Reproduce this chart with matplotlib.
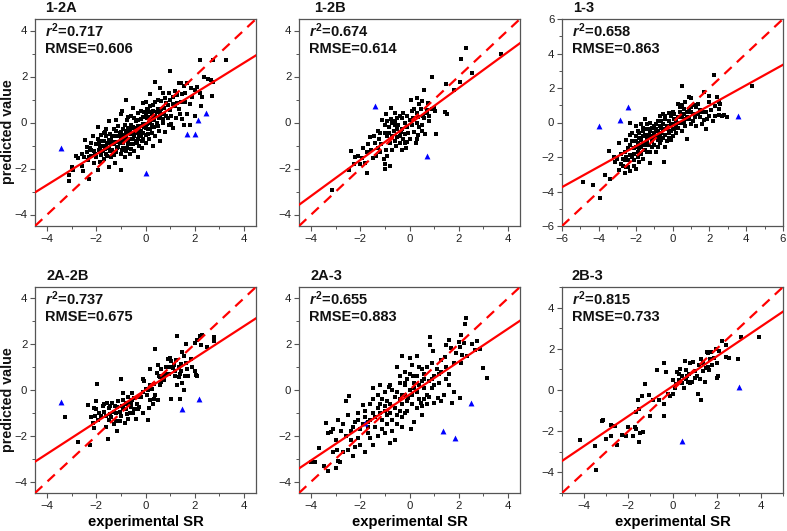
import matplotlib
matplotlib.use("Agg")
import matplotlib.pyplot as plt
from matplotlib.ticker import MultipleLocator
import numpy as np

plt.rcParams['font.family'] = ['Liberation Sans', 'DejaVu Sans']
plt.rcParams['mathtext.fontset'] = 'custom'
plt.rcParams['mathtext.it'] = 'Liberation Sans:italic:bold'
plt.rcParams['mathtext.rm'] = 'Liberation Sans:bold'
plt.rcParams['mathtext.bf'] = 'Liberation Sans:bold'

# ---------------- data ----------------
titles = ["1-2A", "1-2B", "1-3", "2A-2B", "2A-3", "2B-3"]
r2_values = ["0.717", "0.674", "0.658", "0.737", "0.655", "0.815"]
rmse_values = ["0.606", "0.614", "0.863", "0.675", "0.883", "0.733"]
axis_limits = [4.5, 4.5, 6.0, 4.5, 4.5, 5.0]
fit_slopes = [0.662, 0.781, 0.591, 0.696, 0.717, 0.725]
fit_intercepts = [-0.06, -0.065, -0.20, 0.0, -0.20, 0.18]

pts_12A = [
    (-3.1, -2.3), (-3.1, -2.55), (-3.0, -1.95), (-2.95, -2.05), (-2.85, -1.45), (-2.75, -1.55),
    (-2.6, -1.9), (-2.55, -2.1), (-2.5, -1.5), (-2.45, -0.75), (-2.4, -1.3), (-2.35, -1.65),
    (-2.3, -2.45), (-2.25, -1.1), (-2.2, -1.45), (-2.1, -1.25), (-2.1, -1.75), (-2.0, -0.95),
    (-2.0, -1.5), (-1.95, -2.05), (-1.95, -0.2), (-1.9, -1.2), (-1.85, -1.7), (-1.8, -0.8),
    (-1.8, -1.4), (-1.75, -1.0), (-1.7, -1.6), (-1.65, -1.15), (-1.6, -0.6), (-1.6, -1.35),
    (-1.6, -0.3), (-1.55, -0.9), (-1.5, -1.95), (-1.5, -1.1), (-1.5, 0.05), (-1.45, -0.5),
    (-1.4, -1.5), (-1.4, -0.75), (-1.35, -1.2), (-1.3, -0.3), (-1.3, -0.95), (-1.25, -1.75),
    (-1.2, -0.6), (-1.2, -1.3), (-1.2, 0.1), (-1.15, -0.85), (-1.1, -0.15), (-1.1, -1.05),
    (-1.05, -0.45), (-1.0, -2.05), (-1.0, -0.7), (-1.0, 0.35), (-0.95, -1.2), (-0.95, 0.5),
    (-0.9, -0.3), (-0.9, -0.9), (-0.85, -1.5), (-0.8, 1.0), (-0.8, -0.55), (-0.75, 0.1),
    (-0.75, -1.1), (-0.7, -0.25), (-0.7, -0.8), (-0.65, -1.35), (-0.6, 0.3), (-0.6, -0.5),
    (-0.55, -0.95), (-0.5, 0.65), (-0.5, -0.2), (-0.5, -0.7), (-0.45, -1.25), (-0.4, 0.05),
    (-0.4, -0.45), (-0.35, -0.9), (-0.3, 0.4), (-0.3, -0.15), (-0.3, -1.5), (-0.25, -0.6),
    (-0.2, 0.15), (-0.2, -0.35), (-0.15, -1.1), (-0.1, 0.85), (-0.1, -0.05), (-0.1, -0.7),
    (-0.05, 0.45), (0.0, -0.25), (0.0, 0.9), (0.0, -0.9), (0.05, 0.2), (0.1, -0.5),
    (0.1, 0.55), (0.15, 0.0), (0.2, 1.25), (0.2, -0.3), (0.25, 0.35), (0.3, -1.0),
    (0.3, 0.75), (0.35, 0.1), (0.4, 1.75), (0.4, -0.6), (0.45, 0.45), (0.5, 1.0),
    (0.5, -0.15), (0.55, 0.2), (0.6, 1.5), (0.6, -0.8), (0.65, 0.6), (0.7, 1.3),
    (0.7, 0.0), (0.75, 0.35), (0.8, -0.4), (0.85, 0.85), (0.9, 0.2), (0.95, 1.3),
    (1.0, 2.22), (1.0, 0.55), (1.05, -0.05), (1.1, 1.1), (1.1, -0.23), (1.2, 0.7),
    (1.3, 1.2), (1.35, 1.7), (1.4, 0.35), (1.45, 1.7), (1.45, 0.9), (1.5, 0.15),
    (1.55, 1.6), (1.6, 0.9), (1.7, 1.7), (1.7, 0.35), (1.8, -0.12), (1.85, 1.5),
    (2.0, 1.4), (2.1, 1.55), (2.2, 1.3), (2.2, 2.7), (2.25, 0.7), (2.3, 1.1),
    (2.4, 2.0), (2.55, 1.9), (2.65, 1.85), (2.7, 1.15), (2.75, 1.75), (2.75, 2.72),
    (3.27, 2.72), (-2.2, -0.9), (-1.7, -0.45), (-0.6, -0.1), (0.25, -0.1), (0.6, 0.45),
    (-2.6, -1.35), (-2.4, -1.05), (-2.3, -1.5), (-2.2, -1.2), (-2.15, -0.6), (-2.05, -1.35),
    (-1.95, -0.7), (-1.9, -0.9), (-1.85, -1.05), (-1.8, -0.55), (-1.75, -1.25), (-1.7, -0.8),
    (-1.65, -0.4), (-1.6, -1.0), (-1.55, -1.45), (-1.5, -0.75), (-1.45, -1.25), (-1.4, -0.95),
    (-1.35, -0.6), (-1.3, -1.4), (-1.25, -0.85), (-1.2, -0.35), (-1.15, -1.1), (-1.1, -0.6),
    (-1.05, -0.9), (-1.0, -1.35), (-1.0, -0.4), (-0.95, -0.55), (-0.9, -1.1), (-0.85, -0.75),
    (-0.85, -0.1), (-0.8, -1.25), (-0.8, -0.35), (-0.75, -0.7), (-0.7, -0.95), (-0.7, 0.25),
    (-0.65, -0.4), (-0.6, -0.7), (-0.6, -1.15), (-0.55, -0.25), (-0.5, -0.45), (-0.5, -0.95),
    (-0.45, 0.2), (-0.45, -0.6), (-0.4, -0.8), (-0.4, -0.25), (-0.35, -0.45), (-0.3, -0.7),
    (-0.3, 0.1), (-0.25, -0.3), (-0.25, -1.0), (-0.2, -0.55), (-0.2, 0.5), (-0.15, -0.15),
    (-0.15, -0.8), (-0.1, 0.25), (-0.1, -0.45), (-0.05, -0.2), (0.0, 0.35), (0.0, -0.55),
    (0.05, -0.05), (0.05, 0.6), (0.1, -0.3), (0.1, 0.25), (0.15, -0.7), (0.15, 0.45),
    (0.2, 0.05), (0.2, 0.7), (0.25, -0.45), (0.3, 0.2), (0.3, 0.5), (0.35, -0.2),
    (0.4, 0.3), (0.4, 0.9), (0.45, 0.0), (0.5, 0.6), (0.55, -0.35), (0.6, 0.3),
    (0.65, 0.95), (0.7, 0.15), (0.75, 0.65), (0.8, 1.05), (0.85, 0.3), (0.9, 0.75),
    (0.95, -0.1), (1.0, 1.0), (1.05, 0.3), (1.1, 0.8), (1.2, 1.35), (1.25, 0.2),
    (1.3, 0.85), (1.35, 0.6), (1.6, 1.3), (1.9, 1.1), (1.5, 1.25), (1.8, 0.8),
    (2.0, 0.3), (1.55, -0.1),
]
tri_12A = [(-3.43, -1.12), (0.0, -2.18), (1.69, -0.48), (2.03, -0.48), (2.14, 0.1), (2.46, 0.43)]

pts_12B = [
    (3.74, 2.98), (2.32, 3.23), (2.08, 2.74), (2.53, 2.15), (2.04, 1.76), (1.83, 1.4),
    (1.47, 1.66), (1.45, 0.45), (1.54, 0.35), (0.92, 2.0), (0.58, 1.43), (1.0, 0.65),
    (1.05, 0.5), (1.06, -0.48), (0.8, 0.3), (0.7, 0.55), (0.75, 0.85), (0.5, 0.95),
    (0.4, 0.8), (0.3, 1.05), (0.05, 1.0), (0.3, 0.4), (0.1, 0.5), (-0.1, 0.3),
    (0.3, 0.0), (0.1, -0.1), (-0.1, -0.2), (0.0, 0.1), (0.15, 0.2), (0.5, -0.1),
    (0.6, 0.2), (0.62, -0.48), (0.5, -0.35), (-0.1, -0.85), (0.0, -0.7), (-0.2, -0.5),
    (-0.3, -1.2), (-0.15, -1.1), (-0.4, -0.9), (-0.5, -0.3), (-0.5, -0.65), (-0.6, -0.1),
    (-0.7, 0.0), (-0.75, 0.15), (-0.85, -0.2), (-0.9, 0.05), (-1.0, -0.1), (-0.95, 0.35),
    (-1.1, 0.1), (-0.77, 0.65), (-0.4, 0.3), (-0.3, 0.2), (-0.2, 0.0), (-0.6, 0.4),
    (-0.5, 0.2), (-0.7, -0.6), (-0.8, -0.9), (-0.6, -0.8), (-0.95, -1.2), (-0.9, -0.6),
    (-1.05, -1.6), (-1.0, -1.8), (-1.0, -2.0), (-0.8, -1.9), (-0.9, -1.45), (-1.2, -0.45),
    (-1.25, -0.7), (-1.3, -1.1), (-1.2, -1.3), (-1.35, -1.45), (-1.45, -0.6), (-1.4, -0.9),
    (-1.55, -1.2), (-1.5, -1.55), (-1.6, -0.65), (-1.7, -0.95), (-1.75, -1.3), (-1.8, -1.75),
    (-1.75, -2.2), (-1.9, -1.1), (-1.95, -1.55), (-2.0, -1.8), (-2.1, -1.45), (-2.2, -1.5),
    (-2.25, -1.8), (-2.4, -1.25), (-2.45, -2.05), (-3.17, -2.95), (0.3, -0.7), (0.2, -0.4),
    (0.4, -0.2), (-0.35, -0.4), (0.7, 0.4), (0.45, 0.6), (-0.55, -1.0), (-0.7, -1.2),
    (0.25, -0.9), (0.9, 0.6), (0.35, -0.55), (-0.25, -0.7),
    (-0.3, -0.3), (-0.45, -0.1), (-0.65, -0.35), (-0.85, -0.45), (-1.0, -0.45), (-0.2, -0.9),
    (0.2, 0.6), (0.55, 0.3), (-1.15, -0.95), (-1.3, -0.35), (-0.05, -0.45), (0.35, 0.25),
    (-0.6, 0.05), (-0.4, -0.6), (0.8, 0.05), (-0.25, 0.4),
]
tri_12B = [(-1.39, 0.72), (0.72, -1.46)]

pts_13 = [
    (4.29, 2.12), (2.24, 2.76), (0.49, 2.12), (1.7, 1.77), (2.0, 1.55), (2.4, 1.45),
    (2.6, 1.05), (2.5, 1.2), (2.0, 1.2), (2.3, 0.95), (2.55, 0.45), (2.8, 0.45),
    (2.95, 0.3), (2.3, 0.35), (2.0, 0.4), (1.7, 0.15), (1.8, -0.35), (1.9, 0.2),
    (1.5, 0.7), (1.3, 0.5), (1.2, 1.0), (1.0, 1.4), (0.9, 1.5), (0.7, 1.2),
    (0.8, -0.94), (0.4, 0.6), (0.5, 1.0), (0.3, 1.1), (0.0, 0.6), (-0.2, 0.55),
    (-0.5, 0.5), (-0.7, 0.4), (0.6, 0.0), (0.8, 0.3), (1.0, 0.6), (0.2, -0.2),
    (-0.1, -0.1), (0.0, -0.4), (-0.3, -0.2), (-0.6, -0.6), (-0.8, -1.0), (-0.4, -1.4),
    (-0.1, -1.0), (-0.47, -2.29), (-1.0, -0.2), (-1.2, 0.0), (-1.5, 0.2), (-1.6, -0.5),
    (-1.3, -0.7), (-1.0, -0.8), (-1.4, -1.1), (-1.8, -0.9), (-1.7, -1.4), (-2.0, -1.1),
    (-2.1, -1.5), (-1.4, -1.7), (-1.1, -1.4), (-0.9, -1.7), (-1.6, -2.1), (-1.21, -2.35),
    (-2.3, -0.7), (-2.5, -1.0), (-2.2, -2.0), (-2.4, -2.2), (-2.6, -1.7), (-2.9, -1.2),
    (-2.7, -2.5), (-2.6, -2.9), (-2.5, -2.6), (-2.3, -2.8), (-2.1, -2.5), (-3.0, -2.1),
    (-2.9, -2.75), (-3.2, -2.0), (-3.47, -1.68), (-2.3, 0.0), (-3.65, -3.05), (-3.4, -3.3),
    (-4.3, -3.6), (-4.85, -3.45), (-3.95, -4.35), (-1.9, -0.5), (-2.0, -0.2), (-1.7, -0.1),
    (-2.2, -0.6), (-0.8, 0.1), (-0.4, 0.2), (0.3, 0.3), (-0.9, -0.4), (-1.2, -0.5),
    (-2.8, -1.8), (1.1, 0.1), (1.3, -0.2), (1.5, 0.3), (0.9, 0.8), (0.6, 0.5),
    (-0.2, -0.6), (-1.9, -1.7), (-2.3, -1.3), (-1.5, -1.3), (-0.7, -1.2), (-1.1, -0.9),
    (-0.5, -0.9), (-1.8, -2.3), (-2.0, -2.7), (0.1, 0.2), (-0.6, -0.3), (-1.4, -0.4),
    (1.4, 1.1), (2.7, 0.4), (-2.6, -2.2), (-1.6, -0.8),
    (-2.4, -1.5), (-2.3, -1.9), (-2.2, -1.1), (-2.1, -1.8), (-2.0, -1.4), (-2.0, -0.8),
    (-1.9, -1.2), (-1.9, -2.0), (-1.8, -0.6), (-1.8, -1.5), (-1.7, -1.0), (-1.7, -1.8),
    (-1.6, -0.3), (-1.6, -1.2), (-1.5, -0.7), (-1.5, -1.6), (-1.4, -0.9), (-1.4, -0.1),
    (-1.3, -1.3), (-1.3, -0.4), (-1.2, -0.8), (-1.2, -1.7), (-1.1, -0.3), (-1.1, -1.1),
    (-1.0, -0.6), (-1.0, -1.3), (-0.9, -0.1), (-0.9, -0.8), (-0.8, -0.5), (-0.8, -1.4),
    (-0.7, -0.2), (-0.7, -0.8), (-0.6, 0.1), (-0.6, -1.0), (-0.5, -0.4), (-0.5, -0.1),
    (-0.4, -0.7), (-0.4, 0.4), (-0.3, -0.4), (-0.3, -1.1), (-0.2, 0.1), (-0.2, -0.9),
    (-0.1, -0.5), (-0.1, 0.4), (0.0, -0.1), (0.0, -0.8), (0.1, -0.4), (0.1, 0.5),
    (0.2, 0.1), (0.2, -0.6), (0.3, -0.3), (0.4, 0.0), (0.4, 0.9), (0.5, 0.3),
    (0.5, -0.5), (0.6, 0.8), (0.7, 0.2), (0.7, -0.2), (0.8, 0.6), (0.9, 0.2),
    (1.0, 0.9), (1.0, -0.1), (1.1, 0.5), (1.2, 0.3), (1.3, 0.9), (1.4, 0.5),
    (1.6, 0.6), (1.6, -0.1), (1.8, 0.6), (2.1, 0.7), (2.2, 0.1), (2.5, 0.8),
    (-2.1, -2.2), (-2.5, -2.0), (-2.7, -2.1), (-2.8, -2.4), (-3.1, -2.3), (-2.4, -2.6),
]
tri_13 = [(-3.98, -0.19), (-2.86, 0.17), (-2.44, 0.87), (3.53, 0.40)]

pts_2A2B = [
    (-3.29, -1.19), (-2.75, -2.25), (-2.26, -2.39), (-2.35, -0.65), (-2.1, -0.8), (-2.0, -0.5),
    (-2.05, -1.15), (-2.15, -1.45), (-2.1, -1.65), (-1.97, 0.25), (-1.8, -1.15), (-1.7, -0.95),
    (-1.6, -1.6), (-1.55, -0.55), (-1.5, -0.8), (-1.52, -2.16), (-1.4, -1.2), (-1.3, -0.95),
    (-1.25, -0.7), (-1.2, -1.35), (-1.15, -1.8), (-1.1, -0.5), (-1.05, -0.95), (-0.98, 0.49),
    (-1.0, -1.15), (-0.95, -0.7), (-0.9, -0.45), (-0.85, -1.45), (-0.8, -0.85), (-0.75, -0.55),
    (-0.7, -0.3), (-0.65, -1.0), (-0.6, -0.75), (-0.55, -0.45), (-0.45, -0.85), (-0.4, -1.25),
    (-0.35, -0.6), (-0.2, -0.3), (-0.1, -0.1), (-0.1, 0.5), (-0.05, 0.4), (0.0, 0.05),
    (0.05, -0.2), (0.1, 0.0), (-0.1, -1.0), (0.15, -0.8), (0.2, -0.45), (0.3, -0.6),
    (0.35, -0.4), (0.4, -0.2), (0.5, -0.45), (0.1, -1.3), (0.2, 0.9), (0.38, 1.81),
    (0.45, 0.75), (0.55, 0.6), (0.6, 0.55), (0.7, 0.55), (0.75, 0.45), (0.65, 0.9),
    (0.5, 1.1), (0.35, 0.25), (0.2, 0.2), (0.9, 1.35), (1.0, 1.4), (1.05, 1.25),
    (1.1, 0.95), (1.15, 1.1), (1.2, 0.6), (1.05, -0.4), (1.29, 2.36), (1.35, 1.0),
    (1.4, 0.7), (1.45, 1.15), (1.5, 1.65), (1.55, 1.5), (1.6, 0.6), (1.65, 2.0),
    (1.7, 0.9), (1.75, 0.6), (1.85, 1.35), (1.5, 0.3), (1.55, 0.0), (1.4, -0.4),
    (1.3, 0.2), (2.0, 0.85), (2.05, 0.65), (2.1, 0.6), (2.1, 2.2), (2.2, 2.35),
    (2.3, 2.4), (2.25, 1.95), (2.5, 1.9), (2.8, 2.15), (2.8, 2.3), (2.0, 2.05),
    (1.9, 1.0), (1.0, 1.0), (0.8, 0.7), (0.6, 0.2), (-0.3, -0.3), (-0.55, -0.15),
    (-1.35, -0.55), (-1.7, -0.6), (-0.9, -0.15), (-2.0, -0.85), (-1.95, -1.3), (-1.2, -1.0),
    (-0.7, -1.25), (-1.45, -1.05), (-0.25, -0.75), (0.85, 1.0), (1.25, 1.3),
    (-1.9, -1.0), (-1.75, -0.7), (-1.6, -1.15), (-1.45, -0.7), (-1.3, -1.5), (-1.15, -0.75),
    (-1.05, -1.35), (-0.9, -0.8), (-0.75, -1.05), (-0.6, -0.55), (-0.5, -1.0), (-0.45, -0.35),
    (-0.3, -0.85), (0.25, 0.05), (0.65, 0.35), (0.95, 0.7), (1.2, 0.85), (1.35, 0.55),
    (1.65, 1.2), (1.45, 0.85), (-2.2, -1.2), (-1.5, -1.3), (-0.8, -0.6),
]
tri_2A2B = [(-3.46, -0.51), (1.50, -0.81), (2.16, -0.39)]

pts_2A3 = [
    (2.3, 3.15), (2.25, 2.9), (2.1, 2.4), (2.0, 2.1), (2.2, 2.05), (2.75, 2.15),
    (2.55, 2.0), (2.35, 1.5), (2.65, 1.75), (2.15, 1.55), (2.05, 1.9), (1.9, 1.6),
    (1.6, 2.2), (1.5, 1.95), (1.45, 1.45), (1.3, 1.3), (1.7, 1.85), (2.07, -0.35),
    (2.98, 0.97), (3.16, 0.54), (2.89, 1.77), (0.84, 2.33), (0.85, 1.95), (0.95, 1.7),
    (1.74, -0.57), (1.8, -0.1), (1.5, 0.5), (1.4, -0.2), (1.2, 0.3), (1.0, 0.6),
    (1.3, 0.8), (1.0, -0.55), (0.9, 0.1), (0.8, -0.3), (0.3, 1.5), (0.0, 1.4),
    (-0.3, 1.5), (0.1, 1.1), (0.4, 1.0), (0.6, 0.7), (0.7, 1.0), (0.5, 0.4),
    (0.2, 0.3), (-0.1, 0.5), (-0.4, 0.3), (-0.2, 0.8), (-0.5, 1.0), (0.0, 0.0),
    (-0.2, -0.2), (0.3, -0.1), (0.6, -0.4), (0.1, -0.6), (-0.1, -0.9), (0.3, -0.8),
    (0.5, -1.1), (0.7, -0.6), (0.2, -1.4), (-0.3, -0.6), (-0.6, -0.3), (-0.5, -1.1),
    (0.05, -1.7), (-0.5, -1.5), (-0.8, -1.0), (-0.9, -0.5), (-1.0, -0.1), (-1.2, 0.2),
    (-1.5, 0.1), (-1.6, -0.6), (-1.3, -0.8), (-1.1, -1.3), (-1.4, -1.6), (-0.7, -1.8),
    (-0.8, -2.3), (-0.6, -2.2), (-1.0, -1.9), (-1.3, -2.0), (-1.6, -2.1), (-1.9, -0.65),
    (-2.1, -1.0), (-1.8, -1.2), (-2.0, -1.7), (-1.7, -1.9), (-2.0, -2.4), (-1.8, -2.7),
    (-2.2, -2.5), (-2.4, -2.2), (-2.5, -2.6), (-2.3, -2.9), (-2.4, -1.8), (-2.2, -1.4),
    (-2.5, -1.1), (-2.6, -0.5), (-2.45, -0.26), (-2.8, -1.8), (-2.9, -1.3), (-3.0, -2.2),
    (-3.1, -1.7), (-3.3, -1.9), (-3.4, -1.45), (-3.2, -1.85), (-2.7, -2.7), (-2.9, -3.1),
    (-3.0, -3.4), (-3.3, -3.55), (-2.85, -3.15), (-2.95, -2.6), (-3.7, -2.55), (-3.85, -3.15),
    (-4.0, -3.15), (-3.5, -3.3), (-1.2, -0.6), (-0.9, -1.1), (-0.4, -0.4), (0.4, 0.2),
    (-1.5, -1.0), (-2.7, -1.5), (1.1, 0.9), (0.6, 0.1), (-0.7, 0.0), (-0.2, 0.2),
    (0.9, 0.5), (1.6, 0.2), (-1.0, -0.7), (-0.3, -1.2), (0.15, 0.6), (-1.7, -1.4),
    (-0.05, -0.35), (0.45, -0.55), (-0.85, 0.15), (1.15, -0.35),
    (-2.3, -1.6), (-2.1, -2.1), (-1.9, -1.5), (-1.8, -0.9), (-1.7, -1.6), (-1.6, -1.3),
    (-1.5, -0.4), (-1.4, -1.2), (-1.3, -0.2), (-1.2, -1.0), (-1.1, -1.7), (-1.1, -0.4),
    (-1.0, -0.9), (-0.9, -1.5), (-0.8, -0.6), (-0.8, 0.2), (-0.7, -1.3), (-0.6, -0.8),
    (-0.5, -0.1), (-0.4, -0.9), (-0.4, 0.6), (-0.3, -0.2), (-0.2, -1.0), (-0.2, 0.3),
    (-0.1, -0.5), (0.0, 0.7), (0.1, -0.2), (0.2, 0.1), (0.3, 0.6), (0.4, -0.4),
    (0.5, 0.9), (0.6, 0.5), (0.7, -0.2), (0.8, 0.4), (0.9, 1.2), (1.0, 0.2),
    (1.2, 0.7), (1.3, -0.5), (1.5, 1.0), (1.6, 0.7), (1.8, 1.2), (2.1, 1.2),
    (-2.6, -2.0), (-2.1, -1.3), (-3.1, -2.7), (-1.5, -2.4), (-0.3, -1.6), (0.5, -0.7),
]
tri_2A3 = [(-1.81, -1.46), (1.38, -1.81), (1.85, -2.10), (2.50, -0.57)]

pts_2B3 = [
    (3.91, 2.59), (3.1, 2.55), (2.95, 1.5), (2.55, 1.55), (2.4, 1.6), (2.4, 2.2),
    (2.25, 2.4), (2.1, 1.9), (2.05, 0.7), (2.0, 0.6), (1.9, 1.55), (1.95, 2.0),
    (1.6, 1.8), (1.55, 1.85), (1.7, 1.5), (1.4, 1.3), (1.3, 1.5), (1.6, 1.1),
    (1.45, 0.4), (1.25, 0.55), (1.3, -0.5), (1.15, -0.2), (1.2, 1.2), (1.0, 0.9),
    (0.95, 1.35), (0.8, 1.3), (0.75, 0.8), (0.6, 0.55), (0.55, 1.4), (0.5, 0.1),
    (0.45, 0.7), (0.35, 1.0), (0.3, 0.8), (0.3, 0.5), (0.15, 0.3), (0.0, 0.5),
    (0.1, 0.1), (-0.1, -0.3), (0.0, -0.2), (-0.4, 1.3), (-0.3, 0.85), (-0.4, -0.7),
    (-0.4, -1.25), (-0.6, -0.5), (-0.7, 0.95), (-0.9, -0.5), (-1.0, -1.25), (-1.05, -0.25),
    (-1.25, 0.3), (-1.4, -0.3), (-1.5, -0.9), (-1.55, -0.5), (-1.65, -1.05), (-1.7, -1.8),
    (-1.65, -1.9), (-1.45, -2.1), (-1.5, -2.5), (-1.35, -2.05), (-1.8, -2.25), (-2.0, -1.8),
    (-2.1, -2.25), (-2.3, -2.2), (-2.5, -2.65), (-2.6, -1.75), (-2.8, -1.7), (-2.8, -2.25),
    (-3.0, -2.4), (-3.15, -1.45), (-3.2, -1.5), (-3.5, -2.7), (-3.45, -3.9), (-4.2, -2.45),
    (0.8, 0.35), (0.9, 0.4), (1.0, 0.6), (0.7, 0.4), (1.5, 1.05), (1.65, 0.95),
    (1.8, 1.2), (2.0, 1.3), (0.2, 0.85), (0.6, 0.95), (-0.2, -0.2), (0.45, 0.35),
    (1.1, 0.7), (1.4, 0.9), (0.65, 0.7), (1.75, 1.85),
]
tri_2B3 = [(0.45, -2.48), (3.0, 0.14)]

panel_points = [pts_12A, pts_12B, pts_13, pts_2A2B, pts_2A3, pts_2B3]
panel_triangles = [tri_12A, tri_12B, tri_13, tri_2A2B, tri_2A3, tri_2B3]

x_label = "experimental SR"
y_label = "predicted value"

# ---------------- figure ----------------
W, H = 787, 531
fig = plt.figure(figsize=(W / 100, H / 100), dpi=100)

col_px = [(35, 256), (299, 520), (562, 783)]
row_px = [(19, 226), (287, 493)]
title_dx = [0.048, 0.068, 0.05, 0.05, 0.05, 0.045]

for i in range(6):
    r, c = divmod(i, 3)
    x0, x1 = col_px[c]
    y0, y1 = row_px[r]
    ax = fig.add_axes([x0 / W, 1 - y1 / H, (x1 - x0) / W, (y1 - y0) / H])
    lim = axis_limits[i]
    ax.set_xlim(-lim, lim)
    ax.set_ylim(-lim, lim)

    pts = np.array(panel_points[i])
    tri = np.array(panel_triangles[i])
    ax.scatter(pts[:, 0], pts[:, 1], marker='s', s=12, c='black', linewidths=0, zorder=3)
    ax.scatter(tri[:, 0], tri[:, 1], marker='^', s=18, c='#0000ff', linewidths=0, zorder=3)

    xx = np.array([-lim, lim])
    ax.plot(xx, xx, color='#ff0000', lw=1.6, ls=(0, (4.5, 3.2)), zorder=4)
    ax.plot(xx, fit_slopes[i] * xx + fit_intercepts[i], color='#ff0000', lw=1.6, zorder=4)

    ax.xaxis.set_major_locator(MultipleLocator(2))
    ax.yaxis.set_major_locator(MultipleLocator(2))
    ax.xaxis.set_minor_locator(MultipleLocator(1))
    ax.yaxis.set_minor_locator(MultipleLocator(1))
    ax.tick_params(which='major', direction='out', length=3.5, width=0.8,
                   color='#555555', labelsize=8.2, labelcolor='#222222', pad=2)
    ax.tick_params(which='minor', direction='out', length=2, width=0.7, color='#555555')
    for sp in ax.spines.values():
        sp.set_color('#555555')
        sp.set_linewidth(0.9)

    ax.text(title_dx[i], 1.02, titles[i], transform=ax.transAxes, ha='left', va='bottom',
            fontsize=10.5, fontweight='bold', color='#111111')
    ax.text(0.045, 0.945, r'$r^{2}$=' + r2_values[i], transform=ax.transAxes,
            ha='left', va='center', fontsize=10.5, fontweight='bold', color='#111111')
    ax.text(0.045, 0.855, 'RMSE=' + rmse_values[i], transform=ax.transAxes,
            ha='left', va='center', fontsize=10.5, fontweight='bold', color='#111111')

    if r == 1:
        ax.set_xlabel(x_label, fontsize=10.7, fontweight='bold', labelpad=3)

for yc in (132, 400):
    fig.text(8.5 / W, 1 - yc / H, y_label, rotation=90, ha='center', va='center',
             fontsize=10.3, fontweight='bold', color='#111111')

fig.savefig("out.png", dpi=100)
